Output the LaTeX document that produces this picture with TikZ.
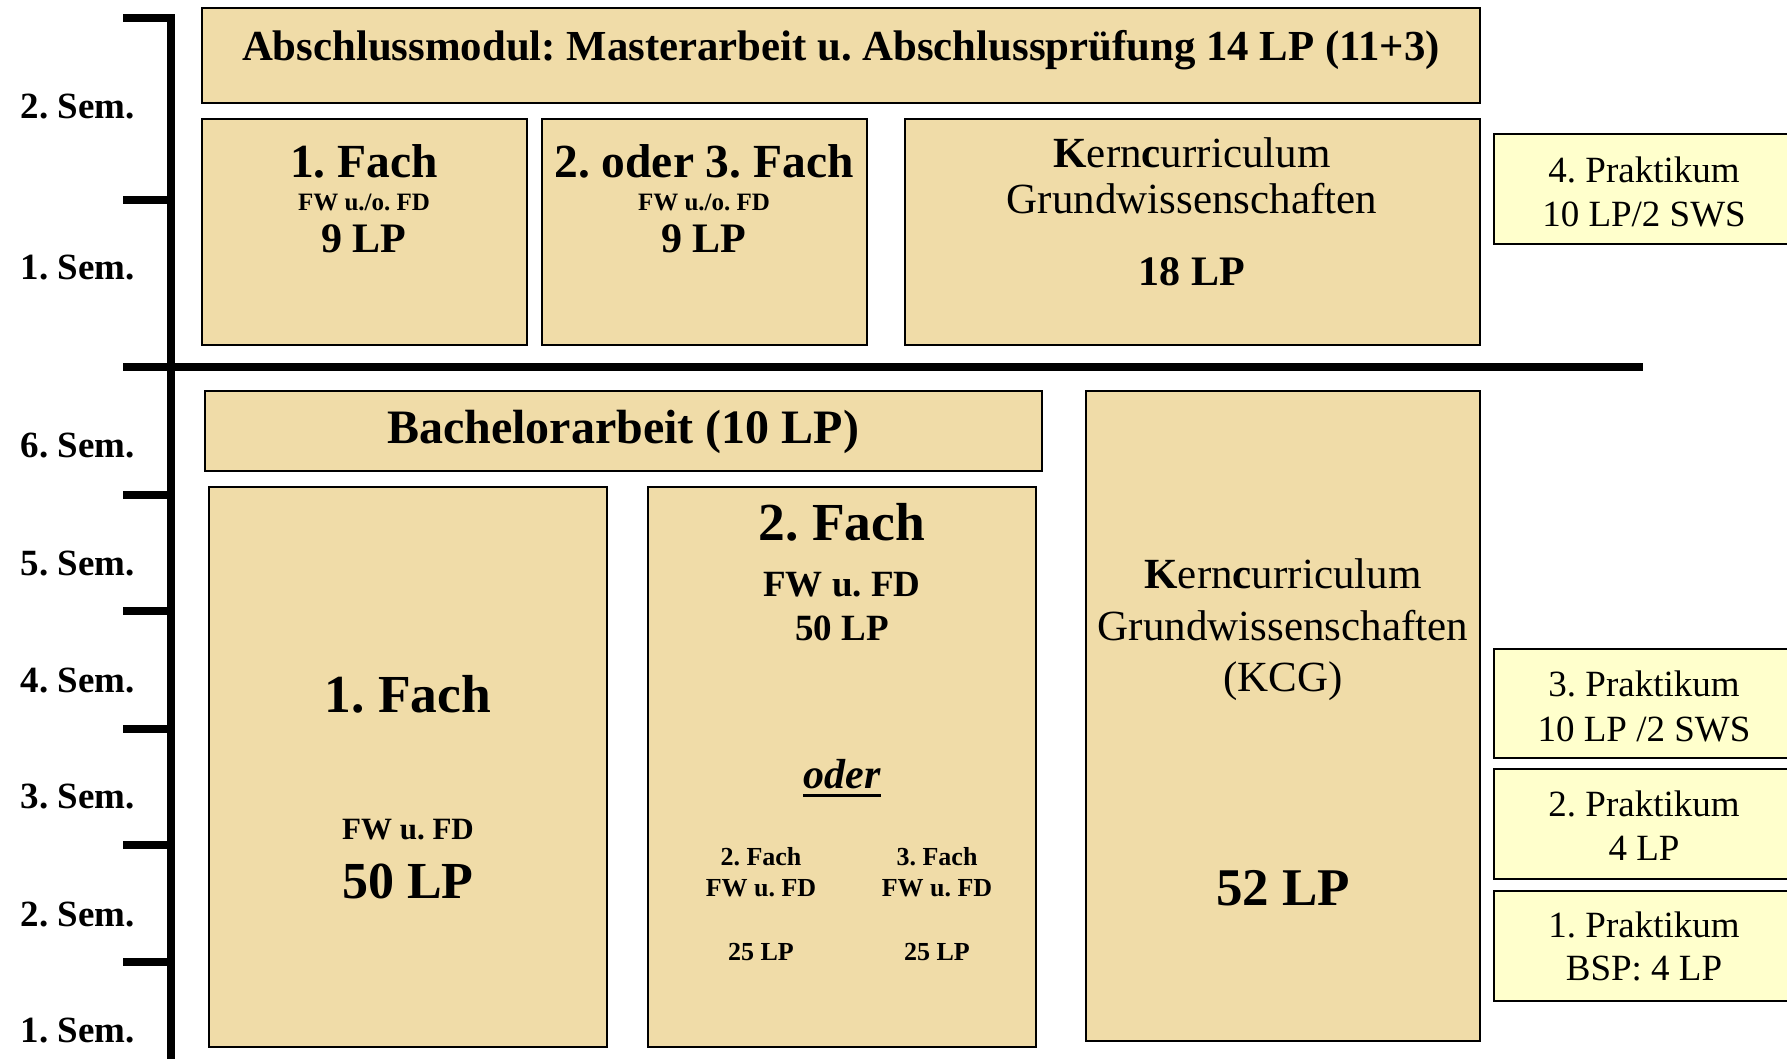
\documentclass[tikz,border=0pt]{standalone}
\usepackage{fontspec}
\setmainfont{Liberation Serif}
\usepackage{xcolor}
\usepackage{tikz}

\definecolor{modulbeige}{RGB}{240,220,168}
\definecolor{praktgelb}{RGB}{255,255,204}

\begin{document}
\frenchspacing
\begin{tikzpicture}[
    x=1pt, y=-1pt,
    modul/.style={rectangle, draw=black, line width=1.6pt, fill=modulbeige, anchor=north west, inner sep=0pt, outer sep=0pt},
    praktikum/.style={modul, fill=praktgelb},
    zeile/.style={anchor=base, inner sep=0pt},
    semlabel/.style={zeile, font=\bfseries\fontsize{37}{44}\selectfont},
    achse/.style={line width=8pt}
]
    \useasboundingbox (0,0) rectangle (1787,1058);

    % Zeitachse
    \draw[achse] (171,14) -- (171,1062);
    \draw[achse] (123,367) -- (1643,367);
    \foreach \y in {18,200,495,611,729,845,962}
        \draw[achse] (123,\y) -- (171,\y);
    \foreach \y/\s [count=\i] in {118/2,279/1,457/6,575/5,692/4,808/3,926/2,1042/1}
        \node[semlabel] (sem\i) at (78,\y) {\s. Sem.};

    % Master
    \node[modul, minimum width=1278pt, minimum height=95pt] (abschluss) at (202,8) {};
    \node[modul, minimum width=325pt, minimum height=226pt] (mfach1) at (202,119) {};
    \node[modul, minimum width=325pt, minimum height=226pt] (mfach2) at (542,119) {};
    \node[modul, minimum width=575pt, minimum height=226pt] (mkcg) at (905,119) {};
    \node[praktikum, minimum width=301pt, minimum height=110pt] (prakt4) at (1494,134) {};

    \node[zeile, font=\bfseries\fontsize{42.8}{50}\selectfont] (abschlusstext) at (841,60)
        {Abschlussmodul: Masterarbeit u. Abschlussprüfung 14 LP (11+3)};
    \foreach \x/\t [count=\i] in {364/1. Fach, 704/2. oder 3. Fach} {
        \node[zeile, font=\bfseries\fontsize{47.5}{54}\selectfont] (mtitel\i) at (\x,177) {\t};
        \node[zeile, font=\bfseries\fontsize{25}{30}\selectfont] (mfw\i) at (\x,210) {FW u./o. FD};
        \node[zeile, font=\bfseries\fontsize{42}{50}\selectfont] (mlp\i) at (\x,252) {9 LP};
    }
    \node[zeile, font=\fontsize{43}{50}\selectfont] (mkern) at (1192,167) {{\bfseries K}ern{\bfseries c}urriculum};
    \node[zeile, font=\fontsize{43}{50}\selectfont] (mgrund) at (1192,213) {Grundwissenschaften};
    \node[zeile, font=\bfseries\fontsize{42}{50}\selectfont] (mkcglp) at (1192,285) {18 LP};
    \node[zeile, font=\fontsize{37}{44}\selectfont] (p4a) at (1644,182) {4. Praktikum};
    \node[zeile, font=\fontsize{37}{44}\selectfont] (p4b) at (1644,226) {10 LP/2 SWS};

    % Bachelor
    \node[modul, minimum width=837pt, minimum height=80pt] (bachelor) at (205,391) {};
    \node[modul, minimum width=398pt, minimum height=560pt] (bfach1) at (209,487) {};
    \node[modul, minimum width=388pt, minimum height=560pt] (bfach2) at (648,487) {};
    \node[modul, minimum width=394pt, minimum height=650pt] (bkcg) at (1086,391) {};
    \node[praktikum, minimum width=301pt, minimum height=109pt] (prakt3) at (1494,649) {};
    \node[praktikum, minimum width=301pt, minimum height=110pt] (prakt2) at (1494,769) {};
    \node[praktikum, minimum width=301pt, minimum height=110pt] (prakt1) at (1494,891) {};

    \node[zeile, font=\bfseries\fontsize{48}{54}\selectfont] (bachelortext) at (623,443) {Bachelorarbeit (10 LP)};

    \node[zeile, font=\bfseries\fontsize{53.5}{60}\selectfont] (b1titel) at (408,712) {1. Fach};
    \node[zeile, font=\bfseries\fontsize{31}{36}\selectfont] (b1fw) at (408,839) {FW u. FD};
    \node[zeile, font=\bfseries\fontsize{52}{60}\selectfont] (b1lp) at (408,898) {50 LP};

    \node[zeile, font=\bfseries\fontsize{53.5}{60}\selectfont] (b2titel) at (842,540) {2. Fach};
    \node[zeile, font=\bfseries\fontsize{37}{44}\selectfont] (b2fw) at (842,596) {FW u. FD};
    \node[zeile, font=\bfseries\fontsize{37}{44}\selectfont] (b2lp) at (842,640) {50 LP};
    \node[zeile, font=\bfseries\itshape\fontsize{42}{50}\selectfont] (oder) at (842,788) {oder};
    \draw[line width=3pt] ([yshift=-7pt]oder.base west) -- ([yshift=-7pt]oder.base east);
    \foreach \x/\n in {761/2, 937/3} {
        \node[zeile, font=\bfseries\fontsize{26}{30}\selectfont] (sub\n titel) at (\x,865) {\n. Fach};
        \node[zeile, font=\bfseries\fontsize{26}{30}\selectfont] (sub\n fw) at (\x,896) {FW u. FD};
        \node[zeile, font=\bfseries\fontsize{26}{30}\selectfont] (sub\n lp) at (\x,960) {25 LP};
    }

    \node[zeile, font=\fontsize{43}{50}\selectfont] (bkern) at (1283,588) {{\bfseries K}ern{\bfseries c}urriculum};
    \node[zeile, font=\fontsize{43}{50}\selectfont] (bgrund) at (1283,640) {Grundwissenschaften};
    \node[zeile, font=\fontsize{43}{50}\selectfont] (bkcgkurz) at (1283,691) {(KCG)};
    \node[zeile, font=\bfseries\fontsize{53}{60}\selectfont] (bkcglp) at (1283,905) {52 LP};

    \node[zeile, font=\fontsize{37}{44}\selectfont] (p3a) at (1644,696) {3. Praktikum};
    \node[zeile, font=\fontsize{37}{44}\selectfont] (p3b) at (1644,741) {10 LP /2 SWS};
    \node[zeile, font=\fontsize{37}{44}\selectfont] (p2a) at (1644,816) {2. Praktikum};
    \node[zeile, font=\fontsize{37}{44}\selectfont] (p2b) at (1644,860) {4 LP};
    \node[zeile, font=\fontsize{37}{44}\selectfont] (p1a) at (1644,937) {1. Praktikum};
    \node[zeile, font=\fontsize{37}{44}\selectfont] (p1b) at (1644,980) {BSP: 4 LP};

\end{tikzpicture}
\end{document}
